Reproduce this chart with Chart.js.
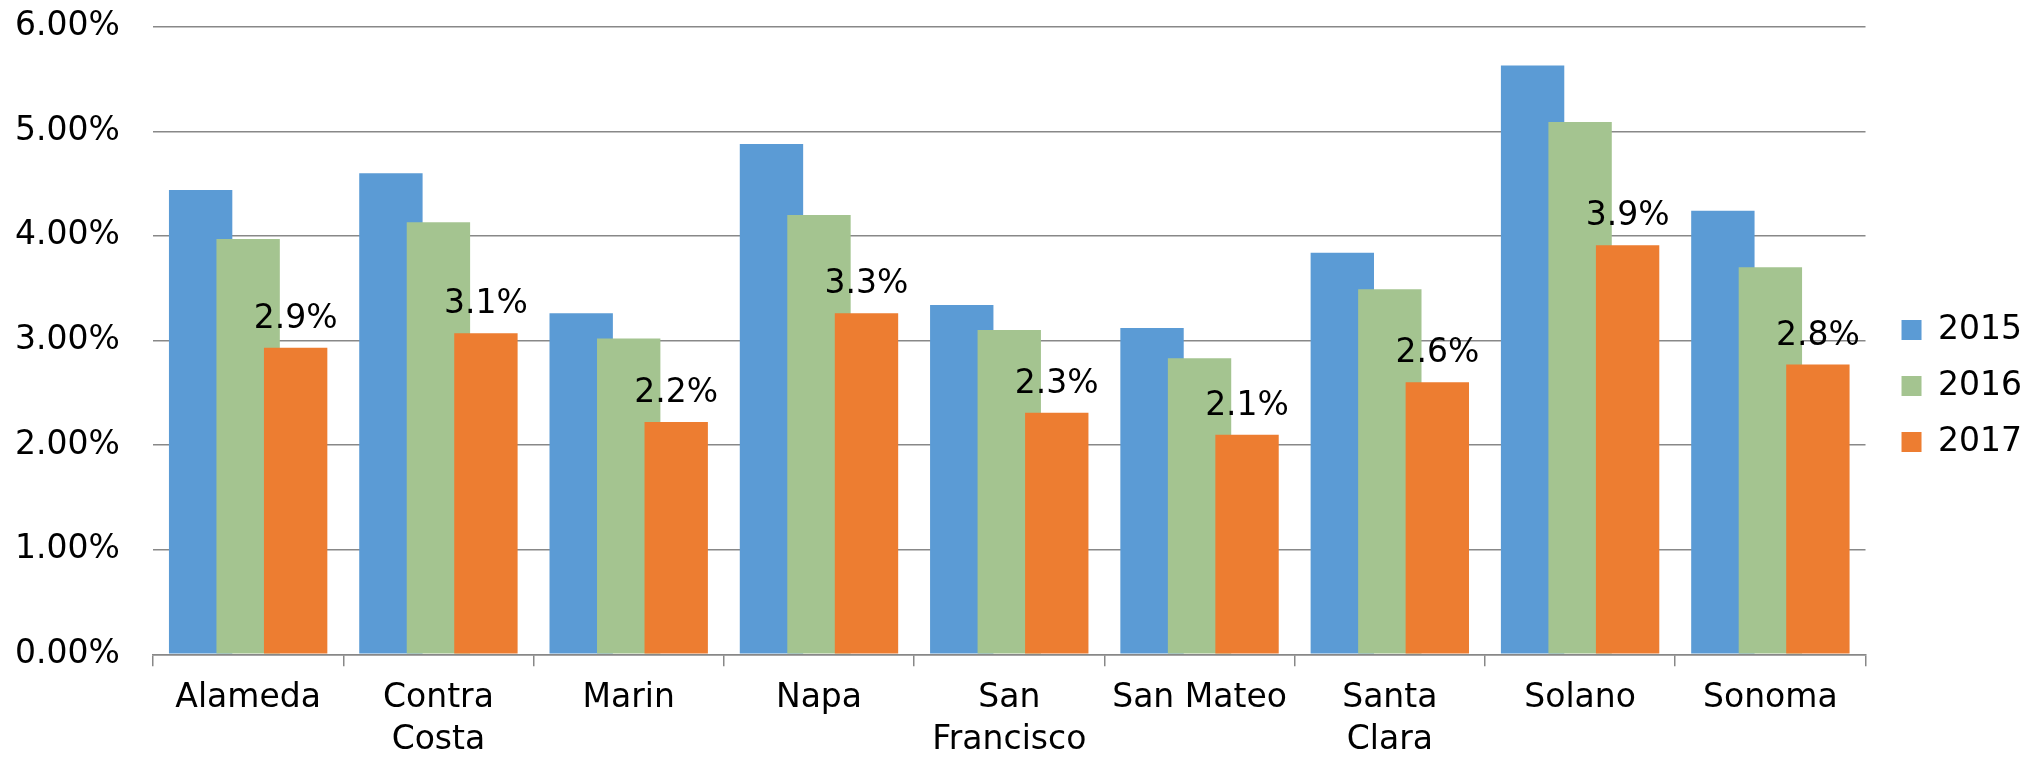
<!DOCTYPE html>
<html>
<head>
<meta charset="utf-8">
<script src="https://cdn.jsdelivr.net/npm/chart.js@4.4.1/dist/chart.umd.min.js"></script>
<style>
  html, body { margin: 0; padding: 0; background: #ffffff; }
  #wrap { width: 2036px; height: 760px; position: relative; }
</style>
</head>
<body>
<div id="wrap"><canvas id="c"></canvas></div>
<script>
const categories = ['Alameda', ['Contra', 'Costa'], 'Marin', 'Napa', ['San', 'Francisco'], 'San Mateo', ['Santa', 'Clara'], 'Solano', 'Sonoma'];
const seriesNames = ['2015', '2016', '2017'];
const values2015 = [4.44, 4.60, 3.26, 4.88, 3.34, 3.12, 3.84, 5.63, 4.24];
const values2016 = [3.97, 4.13, 3.02, 4.20, 3.10, 2.83, 3.49, 5.09, 3.70];
const values2017 = [2.93, 3.07, 2.22, 3.26, 2.31, 2.10, 2.60, 3.91, 2.77];
const yTicks = [0, 1, 2, 3, 4, 5, 6];
const labelledSeries = 2;

const FONT = 'DejaVu Sans';
const FS = 33;

const overlapAndLabels = {
  id: 'overlapAndLabels',
  beforeDatasetsDraw(chart) {
    // draw in dataset order so later series overlap earlier ones (Excel overlap look)
    const metas = chart.getSortedVisibleDatasetMetas().slice().sort((a, b) => a.index - b.index);
    metas.forEach(m => m.controller.draw());
    const ctx = chart.ctx;
    const meta = chart.getDatasetMeta(labelledSeries);
    const data = chart.data.datasets[labelledSeries].data;
    ctx.save();
    ctx.font = FS + 'px "' + FONT + '"';
    ctx.fillStyle = '#000000';
    ctx.textAlign = 'center';
    ctx.textBaseline = 'alphabetic';
    meta.data.forEach((el, i) => {
      ctx.fillText(data[i].toFixed(1) + '%', el.x, el.y - 20);
    });
    ctx.restore();
    return false;
  }
};

new Chart(document.getElementById('c'), {
  type: 'bar',
  data: {
    labels: categories,
    datasets: [
      { label: seriesNames[0], data: values2015, backgroundColor: '#5B9BD5', yAxisID: 'y' },
      { label: seriesNames[1], data: values2016, backgroundColor: '#A4C490', yAxisID: 'y' },
      { label: seriesNames[2], data: values2017, backgroundColor: '#ED7D31', yAxisID: 'y' }
    ]
  },
  options: {
    responsive: true,
    maintainAspectRatio: false,
    animation: false,
    categoryPercentage: 0.749,
    barPercentage: 1.334,
    layout: { padding: { left: 15, top: 12, right: 4, bottom: 0 } },
    plugins: {
      tooltip: { enabled: false },
      legend: {
        position: 'right',
        labels: {
          boxWidth: 20,
          boxHeight: 20,
          padding: 23,
          color: '#000000',
          font: { family: FONT, size: FS }
        }
      }
    },
    scales: {
      x: {
        afterFit(scale) { scale.height = 105.7; },
        grid: {
          display: true,
          drawOnChartArea: false,
          drawTicks: true,
          tickLength: 12,
          color: '#888888',
          lineWidth: 1.5,
          offset: true
        },
        border: { display: true, color: '#888888', width: 1.5 },
        ticks: {
          color: '#000000',
          padding: 11,
          maxRotation: 0,
          autoSkip: false,
          font: { family: FONT, size: FS, lineHeight: 1.27 }
        }
      },
      y: {
        min: 0,
        max: 6,
        afterFit(scale) { scale.width = 138; },
        afterBuildTicks(scale) { scale.ticks = yTicks.map(v => ({ value: v })); },
        grid: { color: '#888888', lineWidth: 1.5, drawTicks: false },
        border: { display: false },
        ticks: {
          color: '#000000',
          padding: 0,
          crossAlign: 'far',
          font: { family: FONT, size: FS, lineHeight: 1.62 },
          callback: v => Number(v).toFixed(2) + '%'
        }
      },
      gap: {
        position: 'right',
        display: true,
        afterFit(scale) { scale.width = 13; },
        grid: { display: false, drawTicks: false },
        border: { display: false },
        ticks: { display: false }
      }
    }
  },
  plugins: [overlapAndLabels]
});
</script>
</body>
</html>
